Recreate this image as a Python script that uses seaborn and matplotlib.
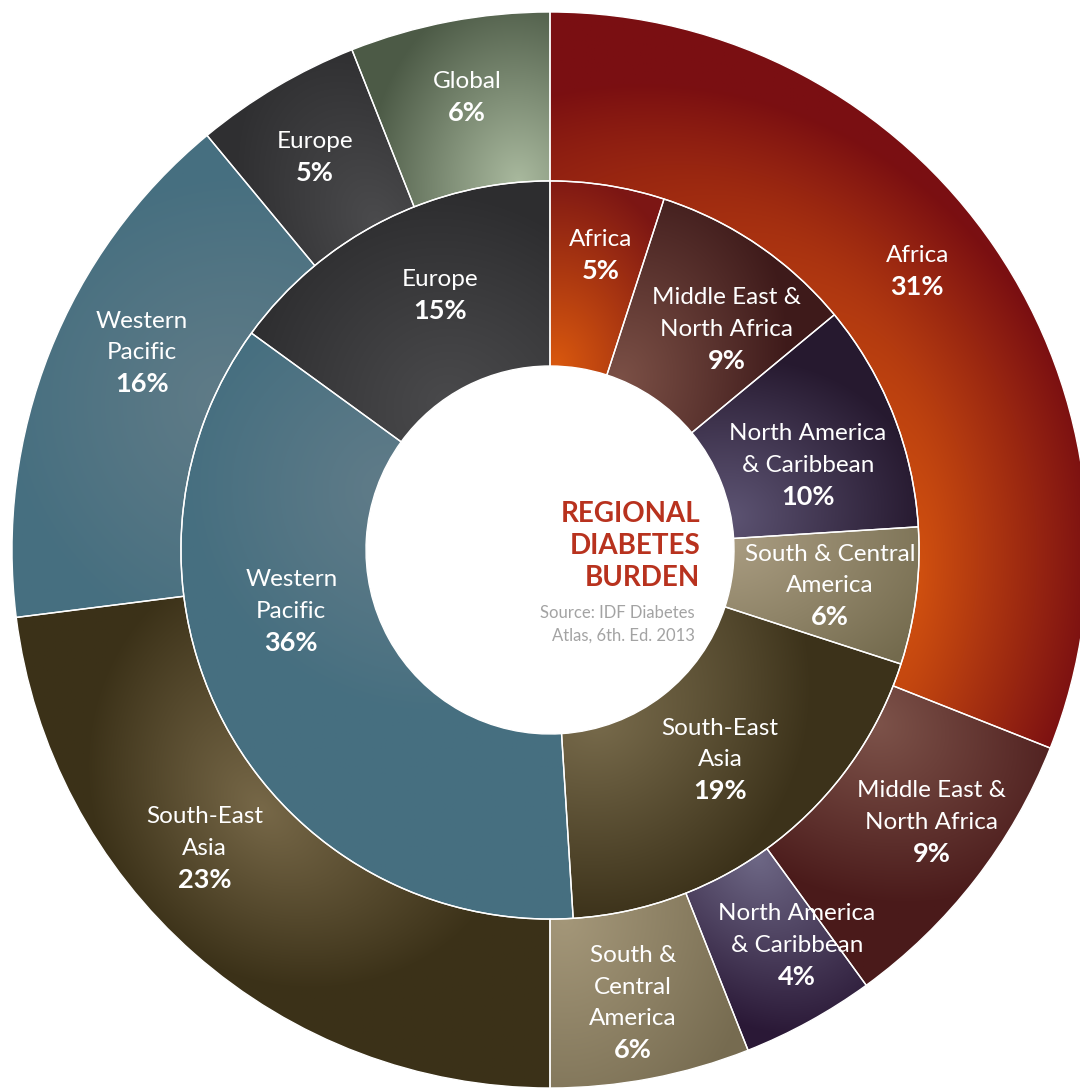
import numpy as np
import matplotlib
matplotlib.use("Agg")
import matplotlib.pyplot as plt
import seaborn as sns
from matplotlib.colors import to_rgb

# ---- data -------------------------------------------------------------
outer_regions = ["Africa", "Middle East &\nNorth Africa", "North America\n& Caribbean",
                 "South &\nCentral\nAmerica", "South-East\nAsia", "Western\nPacific",
                 "Europe", "Global"]
outer_share = [31, 9, 4, 6, 23, 16, 5, 6]

inner_regions = ["Africa", "Middle East &\nNorth Africa", "North America\n& Caribbean",
                 "South & Central\nAmerica", "South-East\nAsia", "Western\nPacific",
                 "Europe"]
inner_share = [5, 9, 10, 6, 19, 36, 15]

title_text = "REGIONAL\nDIABETES\nBURDEN"
source_text = "Source: IDF Diabetes\nAtlas, 6th. Ed. 2013"

# ---- styling ----------------------------------------------------------
# (light colour, dark colour, focus position along wedge, focus position across ring,
#  radial spread, angular spread)
outer_shading = [
    ("#d0500f", "#7a0f12", 0.85, 0.0, 0.33, 1.60),
    ("#7d534a", "#4a1a1a", 0.20, 0.0, 0.40, 0.35),
    ("#6e6886", "#2a1836", 0.14, 0.0, 0.36, 0.30),
    ("#a49779", "#766b50", 0.90, 0.0, 0.45, 0.40),
    ("#776848", "#3b3118", 0.58, 0.1, 0.30, 0.45),
    ("#5f7b87", "#466f80", 0.55, 0.0, 0.40, 0.50),
    ("#4b4b4d", "#2f2f31", 0.65, 0.0, 0.36, 0.25),
    ("#a9b99e", "#4c5a46", 0.77, 0.0, 0.36, 0.30),
]
inner_shading = [
    ("#d9580e", "#7c1614", 0.10, 0.0, 0.36, 0.30),
    ("#7b5046", "#3e1a1a", 0.12, 0.0, 0.40, 0.35),
    ("#5c5372", "#26192f", 0.82, 0.0, 0.36, 0.35),
    ("#a99c81", "#736a4d", 0.05, 0.0, 0.45, 0.35),
    ("#76694a", "#3c321a", 0.83, 0.0, 0.36, 0.55),
    ("#5f7b88", "#466f80", 0.88, 0.0, 0.36, 0.50),
    ("#49494b", "#2d2d2f", 0.35, 0.0, 0.40, 0.50),
]
# label placement: (angle shift from wedge middle in degrees, radius)
outer_label_pos = [(-3.0, 0.857), (-2.3, 0.872), (-3.2, 0.866), (0.4, 0.856),
                   (7.8, 0.848), (4.2, 0.842), (-0.3, 0.851), (0.4, 0.856)]
inner_label_pos = [(0.8, 0.556), (4.5, 0.526), (3.4, 0.505), (0.1, 0.525),
                   (-1.2, 0.502), (15.5, 0.494), (3.7, 0.516)]

sns.set_theme(style="white")
plt.rcParams["font.family"] = ["Lato", "DejaVu Sans"]

W_PX, H_PX = 1080, 1088
CX, CY, R_PX = 550, 550, 538
R_OUT, R_MID, R_HOLE = 1.0, 0.686, 0.342

fig = plt.figure(figsize=(W_PX / 100, H_PX / 100), dpi=100)
ax = fig.add_axes([0, 0, 1, 1])

outer_w, _ = ax.pie(outer_share, radius=R_OUT, startangle=90, counterclock=False,
                    wedgeprops=dict(width=R_OUT - R_MID))
inner_w, _ = ax.pie(inner_share, radius=R_MID, startangle=90, counterclock=False,
                    wedgeprops=dict(width=R_MID - R_HOLE))


def compass(theta):
    """matplotlib angle (ccw from +x) -> clockwise angle from north."""
    return (90.0 - theta) % 360.0


def shade(w, style, r_in, r_out):
    light, dark, fa, fr, sr, sa = style
    light, dark = np.array(to_rgb(light)), np.array(to_rgb(dark))
    a_start, a_end = compass(w.theta2), compass(w.theta1)
    if a_end <= a_start:
        a_end += 360.0
    th0 = a_start + fa * (a_end - a_start)
    r0 = r_in + fr * (r_out - r_in)
    bb = w.get_path().get_extents()
    xs = np.linspace(bb.x0, bb.x1, 360)
    ys = np.linspace(bb.y0, bb.y1, 360)
    X, Y = np.meshgrid(xs, ys)
    R = np.hypot(X, Y)
    TH = np.degrees(np.arctan2(X, Y)) % 360.0
    dth = (TH - th0 + 180.0) % 360.0 - 180.0
    d = np.sqrt(((R - r0) / sr) ** 2 + (np.radians(dth) * R / sa) ** 2)
    t = np.clip(d, 0, 1)[..., None]
    img = (light * (1 - t) + dark * t).astype(np.float32)
    im = ax.imshow(img, extent=(bb.x0, bb.x1, bb.y0, bb.y1), origin="lower",
                   interpolation="bilinear", aspect="auto", zorder=2)
    im.set_clip_path(w)
    w.set_facecolor("none")
    w.set_edgecolor("white")
    w.set_linewidth(1.0)
    w.set_zorder(3)


for w, st in zip(outer_w, outer_shading):
    shade(w, st, R_MID, R_OUT)
for w, st in zip(inner_w, inner_shading):
    shade(w, st, R_HOLE, R_MID)

LINE = 31.5 / R_PX
NAME_FS, PCT_FS = 17.5, 19.5


def put_label(w, name, value, pos):
    shift, rad = pos
    mid = compass((w.theta1 + w.theta2) / 2.0) + shift
    x = rad * np.sin(np.radians(mid))
    y = rad * np.cos(np.radians(mid))
    lines = name.split("\n")
    k = len(lines) + 1
    top = y + (k - 1) / 2 * LINE
    for i, ln in enumerate(lines):
        ax.text(x, top - i * LINE, ln, ha="center", va="center", color="white",
                fontsize=NAME_FS, fontweight="normal", zorder=5)
    ax.text(x, top - (k - 1) * LINE, f"{value}%", ha="center", va="center",
            color="white", fontsize=PCT_FS, fontweight="bold", zorder=5)


for w, n, v, p in zip(outer_w, outer_regions, outer_share, outer_label_pos):
    put_label(w, n, v, p)
for w, n, v, p in zip(inner_w, inner_regions, inner_share, inner_label_pos):
    put_label(w, n, v, p)

# centre caption
title_x = (700 - CX) / R_PX
for i, ln in enumerate(title_text.split("\n")):
    ax.text(title_x, (CY - (514 + 32 * i)) / R_PX, ln, ha="right", va="center",
            color="#b8321e", fontsize=20, fontweight="bold", zorder=5)
src_x = (695 - CX) / R_PX
for i, ln in enumerate(source_text.split("\n")):
    ax.text(src_x, (CY - (613 + 23 * i)) / R_PX, ln, ha="right", va="center",
            color="#a3a3a3", fontsize=12, fontweight="normal", zorder=5)

ax.set_xlim(-CX / R_PX, (W_PX - CX) / R_PX)
ax.set_ylim(-(H_PX - CY) / R_PX, CY / R_PX)
ax.set_aspect("auto")
ax.axis("off")

fig.savefig("out.png", dpi=100, facecolor="white")
